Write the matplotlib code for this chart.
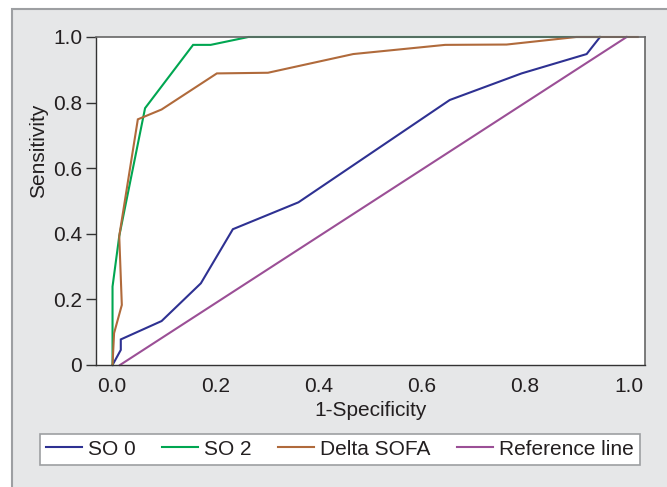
import matplotlib
matplotlib.use("Agg")
import matplotlib.pyplot as plt
from matplotlib.patches import Rectangle

plt.rcParams["font.family"] = ["Liberation Sans", "DejaVu Sans"]

# ------------------------------------------------------------------ data
so0_x = [0.001, 0.017, 0.017, 0.096, 0.172, 0.234, 0.361, 0.654, 0.793, 0.919, 0.945]
so0_y = [0.000, 0.046, 0.078, 0.134, 0.249, 0.414, 0.496, 0.808, 0.889, 0.948, 1.000]

so2_x = [0.001, 0.001, 0.014, 0.064, 0.157, 0.191, 0.264, 0.945]
so2_y = [0.000, 0.239, 0.393, 0.783, 0.976, 0.976, 1.000, 1.000]

sofa_x = [0.001, 0.004, 0.019, 0.014, 0.050, 0.096, 0.203, 0.302, 0.467, 0.645, 0.764, 0.899, 1.018]
sofa_y = [0.000, 0.097, 0.183, 0.393, 0.749, 0.779, 0.889, 0.891, 0.948, 0.976, 0.977, 1.000, 1.000]

ref_x = [0.0155, 0.9965]
ref_y = [0.0, 1.0]

series = ["SO 0", "SO 2", "Delta SOFA", "Reference line"]
colors = ["#2e3192", "#00a651", "#b06a3b", "#9b4f96"]

xticks = [0.0, 0.2, 0.4, 0.6, 0.8, 1.0]
xticklabels = ["0.0", "0.2", "0.4", "0.6", "0.8", "1.0"]
yticks = [0.0, 0.2, 0.4, 0.6, 0.8, 1.0]
yticklabels = ["0", "0.2", "0.4", "0.6", "0.8", "1.0"]

# ------------------------------------------------------------------ plot
W, H = 667, 487
fig = plt.figure(figsize=(W / 100, H / 100), dpi=100, facecolor="white")
fig.patches.append(Rectangle((12 / W, -0.1), 1.1, (H - 9) / H + 0.1,
                             transform=fig.transFigure, facecolor="#e6e7e8",
                             edgecolor="#9d9fa2", lw=1.5, zorder=-1))

ax = fig.add_axes([96 / W, (H - 365) / H, (645 - 96) / W, (365 - 37) / H])
ax.set_facecolor("white")

txt = "#231f20"
lw = 1.5
for xs, ys, lab, c in zip([so0_x, so2_x, sofa_x, ref_x], [so0_y, so2_y, sofa_y, ref_y],
                          series, colors):
    ax.plot(xs, ys, color=c, lw=lw, label=lab, clip_on=False, solid_joinstyle="miter")

ax.set_xlim(-0.031, 1.032); ax.set_ylim(0, 1)
ax.set_xticks(xticks); ax.set_xticklabels(xticklabels)
ax.set_yticks(yticks); ax.set_yticklabels(yticklabels)
ax.tick_params(axis="x", length=0, pad=9, labelsize=15, labelcolor=txt)
ax.tick_params(axis="y", length=7, width=1, pad=3, labelsize=15, labelcolor=txt, color="#333333")

for s in ["left", "bottom"]:
    ax.spines[s].set_color("#333333"); ax.spines[s].set_linewidth(1.0)
for s in ["right", "top"]:
    ax.spines[s].set_color("#666666"); ax.spines[s].set_linewidth(1.2)

ax.set_xlabel("1-Specificity", fontsize=15, color=txt)
ax.set_ylabel("Sensitivity", fontsize=15, color=txt)
ax.xaxis.set_label_coords(0.5, -0.11)
ax.yaxis.set_label_coords(-0.088, 0.652)

handles, labels = ax.get_legend_handles_labels()
leg = fig.legend(handles, labels, loc="lower left", ncol=4, mode="expand",
                 bbox_to_anchor=(40 / W, (H - 465) / H, 600 / W, 33 / H),
                 fontsize=15, frameon=True, fancybox=False, framealpha=1,
                 edgecolor="#9d9fa2", handlelength=1.7, handletextpad=0.3,
                 borderaxespad=0, borderpad=0.3, columnspacing=1.0)
leg.get_frame().set_linewidth(1.2)
for t in leg.get_texts():
    t.set_color(txt)

fig.savefig("out.png", dpi=100, facecolor=fig.get_facecolor())
